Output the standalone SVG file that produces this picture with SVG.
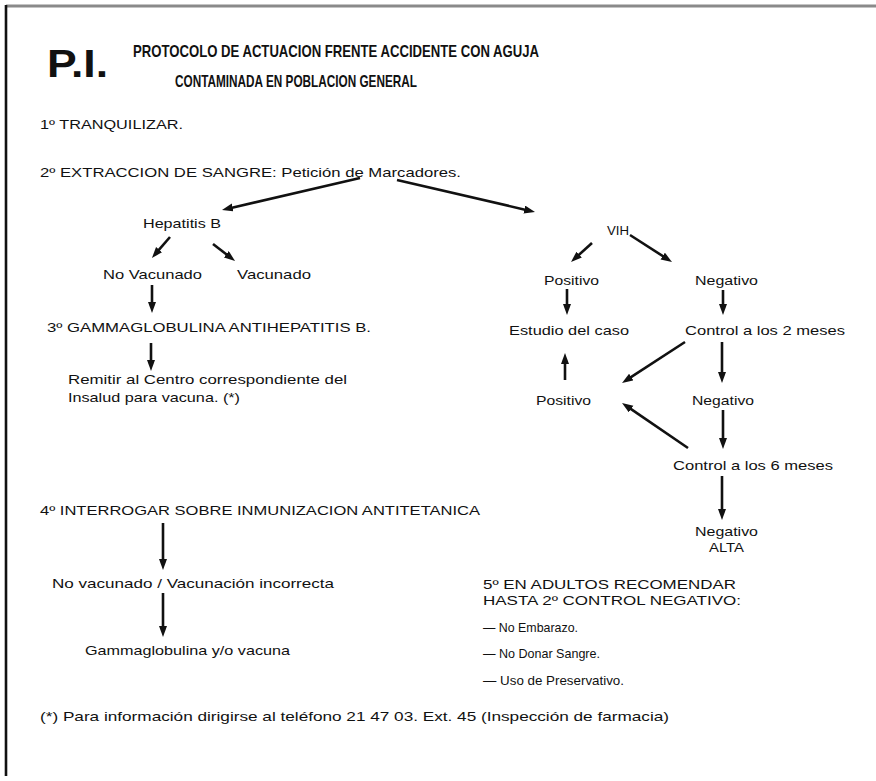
<svg xmlns="http://www.w3.org/2000/svg" width="876" height="781" viewBox="0 0 876 781">
<style>
text{font-family:"Liberation Sans",Arial,Helvetica,sans-serif;fill:#111;}
.b{font-size:13.5px;}
.t{font-size:17px;font-weight:bold;}
.pi{font-size:39px;font-weight:bold;}
.n{font-size:13px;}
.c{stroke:#111;stroke-width:2.6;fill:none;marker-end:url(#ah);}
</style>
<defs>
<marker id="ah" markerUnits="userSpaceOnUse" markerWidth="12" markerHeight="9" refX="4" refY="4" orient="auto">
<path d="M0,0 L11,4 L0,8 Z" fill="#111"/>
</marker>
</defs>
<rect width="876" height="781" fill="#fff"/>
<g id="frame">
<line x1="6" y1="6" x2="876" y2="6" stroke="#8a8a8a" stroke-width="3"/>
<line x1="6" y1="5" x2="6" y2="776" stroke="#111" stroke-width="2.6"/>
</g>
<g id="title">
<text class="pi" x="47" y="77" textLength="61" lengthAdjust="spacingAndGlyphs">P.I.</text>
<text class="t" x="133" y="57" textLength="406" lengthAdjust="spacingAndGlyphs">PROTOCOLO DE ACTUACION FRENTE ACCIDENTE CON AGUJA</text>
<text class="t" x="175" y="87" textLength="242" lengthAdjust="spacingAndGlyphs">CONTAMINADA EN POBLACION GENERAL</text>
</g>
<g id="step1"><text class="b" x="40" y="129" textLength="143" lengthAdjust="spacingAndGlyphs">1º TRANQUILIZAR.</text></g>
<g id="step2"><text class="b" x="40" y="177" textLength="421" lengthAdjust="spacingAndGlyphs">2º EXTRACCION DE SANGRE: Petición de Marcadores.</text></g>
<g id="hepb"><text class="b" x="143" y="228" textLength="78" lengthAdjust="spacingAndGlyphs">Hepatitis B</text></g>
<g id="novac"><text class="b" x="103" y="279" textLength="99" lengthAdjust="spacingAndGlyphs">No Vacunado</text></g>
<g id="vac"><text class="b" x="237" y="279" textLength="74" lengthAdjust="spacingAndGlyphs">Vacunado</text></g>
<g id="step3"><text class="b" x="47" y="332" textLength="324" lengthAdjust="spacingAndGlyphs">3º GAMMAGLOBULINA ANTIHEPATITIS B.</text></g>
<g id="remitir">
<text class="b" x="68" y="384" textLength="279" lengthAdjust="spacingAndGlyphs">Remitir al Centro correspondiente del</text>
<text class="b" x="68" y="402" textLength="172" lengthAdjust="spacingAndGlyphs">Insalud para vacuna. (*)</text>
</g>
<g id="vih"><text class="b" x="607" y="235" textLength="22" lengthAdjust="spacingAndGlyphs">VIH</text></g>
<g id="pos1"><text class="b" x="544" y="285" textLength="55" lengthAdjust="spacingAndGlyphs">Positivo</text></g>
<g id="neg1"><text class="b" x="695" y="285" textLength="63" lengthAdjust="spacingAndGlyphs">Negativo</text></g>
<g id="estudio"><text class="b" x="509" y="335" textLength="120" lengthAdjust="spacingAndGlyphs">Estudio del caso</text></g>
<g id="control2"><text class="b" x="685" y="335" textLength="160" lengthAdjust="spacingAndGlyphs">Control a los 2 meses</text></g>
<g id="pos2"><text class="b" x="536" y="405" textLength="55" lengthAdjust="spacingAndGlyphs">Positivo</text></g>
<g id="neg2"><text class="b" x="692" y="405" textLength="62" lengthAdjust="spacingAndGlyphs">Negativo</text></g>
<g id="control6"><text class="b" x="673" y="470" textLength="160" lengthAdjust="spacingAndGlyphs">Control a los 6 meses</text></g>
<g id="neg3">
<text class="b" x="695" y="536" textLength="63" lengthAdjust="spacingAndGlyphs">Negativo</text>
<text class="b" x="709" y="552" textLength="35" lengthAdjust="spacingAndGlyphs">ALTA</text>
</g>
<g id="step4"><text class="b" x="40" y="515" textLength="440" lengthAdjust="spacingAndGlyphs">4º INTERROGAR SOBRE INMUNIZACION ANTITETANICA</text></g>
<g id="novac2"><text class="b" x="52" y="588" textLength="282" lengthAdjust="spacingAndGlyphs">No vacunado / Vacunación incorrecta</text></g>
<g id="gamma"><text class="b" x="85" y="655" textLength="205" lengthAdjust="spacingAndGlyphs">Gammaglobulina y/o vacuna</text></g>
<g id="step5">
<text class="n" x="483" y="589" textLength="253" lengthAdjust="spacingAndGlyphs">5º EN ADULTOS RECOMENDAR</text>
<text class="n" x="483" y="605" textLength="258" lengthAdjust="spacingAndGlyphs">HASTA 2º CONTROL NEGATIVO:</text>
<text class="n" x="483" y="632" textLength="95" lengthAdjust="spacingAndGlyphs">— No Embarazo.</text>
<text class="n" x="483" y="658" textLength="117" lengthAdjust="spacingAndGlyphs">— No Donar Sangre.</text>
<text class="n" x="483" y="685" textLength="141" lengthAdjust="spacingAndGlyphs">— Uso de Preservativo.</text>
</g>
<g id="footnote"><text class="n" x="40" y="721" textLength="629" lengthAdjust="spacingAndGlyphs">(*) Para información dirigirse al teléfono 21 47 03. Ext. 45 (Inspección de farmacia)</text></g>
<g id="connectors">
<path class="c" d="M360,178 L228.8,208.4"/>
<path class="c" d="M397,180 L528.2,210.4"/>
<path class="c" d="M170,237 L156.5,252.7"/>
<path class="c" d="M213,244 L229.5,256.7"/>
<path class="c" d="M152,285 L152,306"/>
<path class="c" d="M151,343 L151,364"/>
<path class="c" d="M592,243 L576.2,257.3"/>
<path class="c" d="M630,235 L666.1,258.2"/>
<path class="c" d="M567,289 L567,308"/>
<path class="c" d="M723,290 L723,308"/>
<path class="c" d="M685,342 L627.9,379.2"/>
<path class="c" d="M722,342 L722,376"/>
<path class="c" d="M565,380 L565,360"/>
<path class="c" d="M723,410 L723,442"/>
<path class="c" d="M688,448 L627.8,406.9"/>
<path class="c" d="M722,476 L722,513"/>
<path class="c" d="M163,523 L163,563"/>
<path class="c" d="M163,593 L163,630"/>
</g>
</svg>
